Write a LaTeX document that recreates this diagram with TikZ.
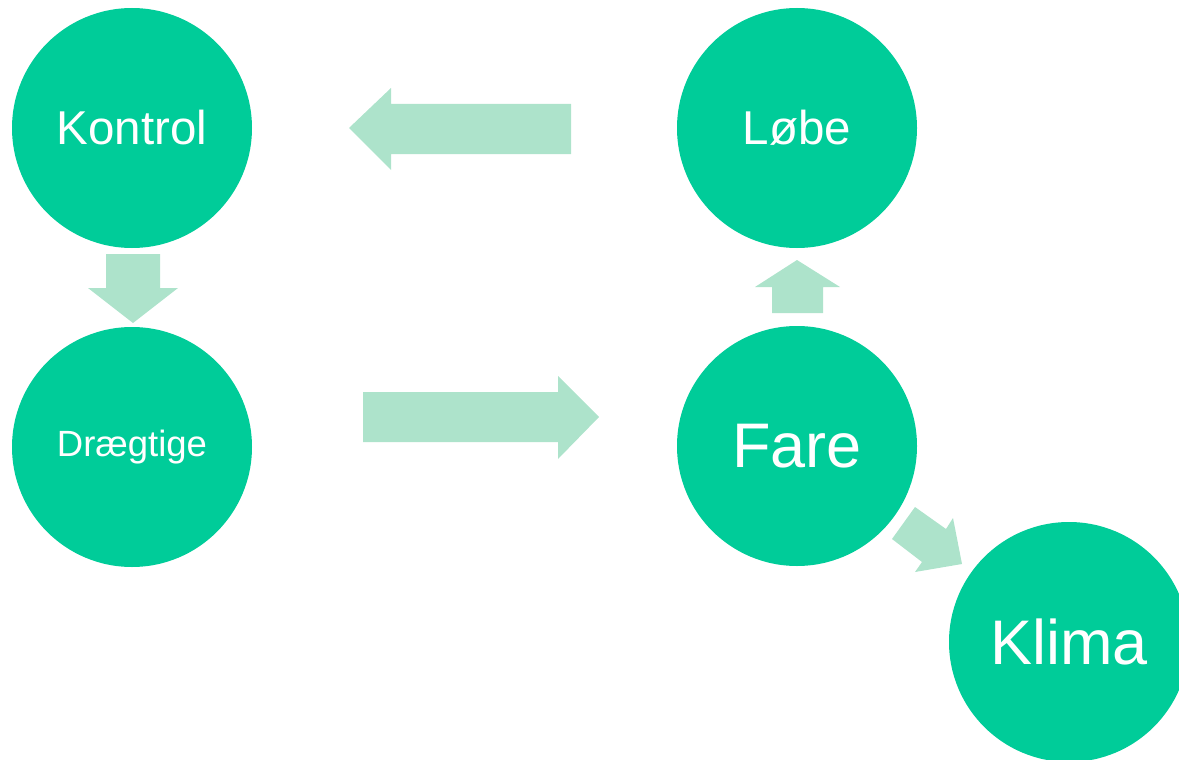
\documentclass[tikz,border=0pt]{standalone}
\usepackage{fontspec}
\setmainfont{Liberation Sans}
\definecolor{circ}{HTML}{00CC99}
\definecolor{arr}{HTML}{ADE3CB}
\tikzset{
  bubble/.style={circle, fill=circ, draw=none, minimum size=240pt, inner sep=0pt, text=white},
  blockarrow/.style={fill=arr, draw=none}
}
\begin{document}
\begin{tikzpicture}[x=1pt,y=-1pt]
\useasboundingbox (0,0) rectangle (1179,760);
\clip (0,0) rectangle (1179,760);
\node[bubble, font=\fontsize{47.5}{54}\selectfont] (kontrol) at (132,128) {Kontrol};
\node[bubble, font=\fontsize{36.5}{42}\selectfont] (draegtige) at (132,447) {Drægtige};
\node[bubble, font=\fontsize{47.5}{54}\selectfont] (lobe) at (797,128) {Løbe};
\node[bubble, font=\fontsize{63}{70}\selectfont] (fare) at (797,446) {Fare};
\node[bubble, font=\fontsize{63}{70}\selectfont] (klima) at (1069,642) {Klima};
% left arrow (Løbe -> Kontrol)
\fill[blockarrow] (571,104) -- (391,104) -- (391,88) -- (349,128) -- (391,170) -- (391,154) -- (571,154) -- cycle;
% down arrow (Kontrol -> Drægtige)
\fill[blockarrow] (106,254) -- (160,254) -- (160,288) -- (178,288) -- (133,323) -- (88,288) -- (106,288) -- cycle;
% right arrow (Drægtige -> Fare)
\fill[blockarrow] (363,392) -- (558,392) -- (558,376) -- (599,417) -- (558,459) -- (558,442) -- (363,442) -- cycle;
% up arrow (Fare -> Løbe)
\fill[blockarrow] (772,313) -- (772,287) -- (755,287) -- (797,260) -- (840,287) -- (823,287) -- (823,313) -- cycle;
% diagonal arrow (Fare -> Klima)
\fill[blockarrow] (915,507) -- (946,529) -- (953,518) -- (962,564) -- (915,572) -- (922,562) -- (892,539) -- cycle;
\end{tikzpicture}
\end{document}
